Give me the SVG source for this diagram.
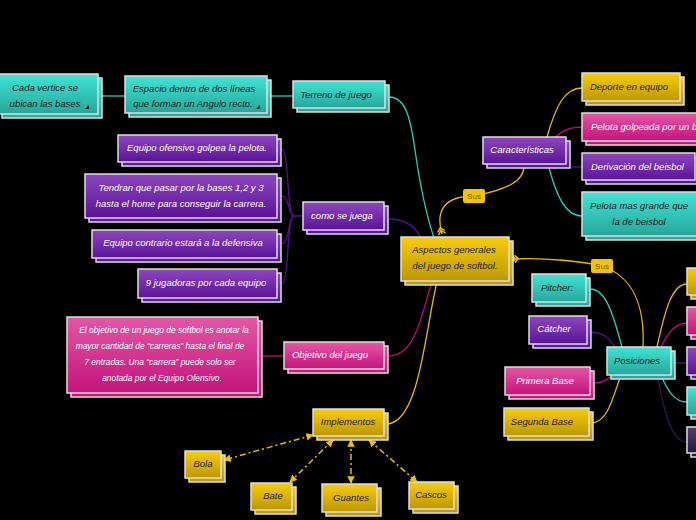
<svg xmlns="http://www.w3.org/2000/svg" width="696" height="520" viewBox="0 0 696 520">
<defs>
<linearGradient id="gT" x1="0" y1="0" x2="0" y2="1"><stop offset="0" stop-color="#40e4d4"/><stop offset="1" stop-color="#26a69b"/></linearGradient>
<linearGradient id="gP" x1="0" y1="0" x2="0" y2="1"><stop offset="0" stop-color="#8e47be"/><stop offset="1" stop-color="#5a1399"/></linearGradient>
<linearGradient id="gK" x1="0" y1="0" x2="0" y2="1"><stop offset="0" stop-color="#e457a6"/><stop offset="1" stop-color="#c4137a"/></linearGradient>
<linearGradient id="gY" x1="0" y1="0" x2="0" y2="1"><stop offset="0" stop-color="#f8cc0c"/><stop offset="1" stop-color="#bd9700"/></linearGradient>
<linearGradient id="gD" x1="0" y1="0" x2="0" y2="1"><stop offset="0" stop-color="#504070"/><stop offset="1" stop-color="#23163e"/></linearGradient>
<marker id="arr" viewBox="0 0 10 10" refX="9" refY="5" markerWidth="5" markerHeight="5" orient="auto-start-reverse"><path d="M0,0 L10,5 L0,10 z" fill="#f0c000"/></marker>
<marker id="tail" viewBox="0 0 10 10" refX="1" refY="5" markerWidth="7" markerHeight="7" orient="auto"><path d="M1,1 L5,5 L1,9 M4,1 L8,5 L4,9" fill="none" stroke="#f0c000" stroke-width="1.6"/></marker>
<style>
rect.n{stroke:#dedede;stroke-width:1.5}
.t{fill:url(#gT)} .p{fill:url(#gP)} .k{fill:url(#gK)} .y{fill:url(#gY)} .d{fill:url(#gD)}
text{font-family:"Liberation Sans",Arial,sans-serif;font-style:italic;font-size:9.5px;text-anchor:middle}
text.st{text-anchor:start}
.dk{fill:#1c1c1c} .wh{fill:#ffffff}
text.sm{font-size:8.4px}
path.c{fill:none;stroke-width:1.3}
.ct{stroke:#2ec9bc} .cp{stroke:#52108a} .ck{stroke:#b3106c} .cy{stroke:#e8b900} .cd{stroke:#2a1a52}
.dash{stroke:#e8b900;stroke-width:1.5;fill:none;stroke-dasharray:6 3 2 3}
.sus{fill:#f5c400}
text.sust{font-style:normal;font-size:8px;fill:#6e5a20}
</style>
</defs>
<rect x="0" y="0" width="696" height="520" fill="#000"/>

<g id="connectors">
<path class="c ct" d="M100,96 H125"/>
<path class="c ct" d="M270,96 H293"/>
<path class="c ct" d="M389,97 C405,97 410,115 415,150 S428,220 434,238"/>
<path class="c cp" d="M388,219 C405,219 415,225 421,238"/>
<path class="c cy" d="M442,234 C435,210 445,196 474,196 C505,190 524,182 524,166" marker-start="url(#tail)"/>
<path class="c cy" d="M512,259 C545,257 585,262 602,266 C632,276 645,305 643,347" marker-start="url(#tail)"/>
<path class="c ck" d="M388,356 C415,356 420,320 432,282"/>
<path class="c cy" d="M388,424 C420,420 425,330 437,282"/>
<path class="c ck" d="M262,356 H284"/>
<path class="c cp" d="M303,216 H294 C286,216 290,149 281,149"/>
<path class="c cp" d="M294,216 C288,216 290,196 281,196"/>
<path class="c cp" d="M294,216 C288,216 290,244 281,244"/>
<path class="c cp" d="M294,216 C286,216 290,284 281,284"/>
<path class="c cy" d="M547,137 C556,105 565,88 582,88"/>
<path class="c ck" d="M556,137 C562,130 570,127 582,127"/>
<path class="c cp" d="M570,167 H582"/>
<path class="c ct" d="M548,164 C556,195 565,216 582,216"/>
<path class="c ct" d="M590,289 C605,289 612,310 622,347"/>
<path class="c cp" d="M590,332 C605,332 610,340 615,347"/>
<path class="c ck" d="M594,383 C603,383 608,380 612,375"/>
<path class="c cy" d="M593,423 C608,420 612,400 621,375"/>
<path class="c cy" d="M657,347 C665,310 672,284 687,284"/>
<path class="c ck" d="M661,347 C668,333 675,323 687,323"/>
<path class="c cp" d="M675,363 H687"/>
<path class="c ct" d="M661,375 C668,392 675,402 687,402"/>
<path class="c cd" d="M657,375 C665,415 672,442 687,442"/>
<path class="dash" d="M313,435 L224,460" marker-start="url(#arr)" marker-end="url(#arr)"/>
<path class="dash" d="M333,440 L290,482" marker-start="url(#arr)" marker-end="url(#arr)"/>
<path class="dash" d="M351,440 L351,483" marker-start="url(#arr)" marker-end="url(#arr)"/>
<path class="dash" d="M369,440 L417,482" marker-start="url(#arr)" marker-end="url(#arr)"/>
<rect class="sus" x="463" y="189" width="22" height="14" rx="2"/>
<text class="sust" x="474" y="199">Sus</text>
<rect class="sus" x="591" y="259" width="22" height="14" rx="2"/>
<text class="sust" x="602" y="269">Sus</text>
</g>

<g id="n-cada"><rect class="n t" x="2" y="78" width="100" height="40"/><rect class="n t" x="-2" y="74" width="100" height="40"/>
<text class="dk" x="45" y="91">Cada vertice se</text><text class="dk" x="45" y="107">ubican las bases</text><polygon points="85,109 89,105 89,109" fill="#1c1c1c"/></g>
<g id="n-espacio"><rect class="n t" x="129" y="80" width="142" height="37"/><rect class="n t" x="125" y="76" width="142" height="37"/>
<text class="dk" x="194" y="92">Espacio dentro de dos líneas</text><text class="dk" x="193" y="107">que forman un Angulo recto.</text><polygon points="256,109 260,105 260,109" fill="#1c1c1c"/></g>
<g id="n-terreno"><rect class="n t" x="297" y="85" width="92" height="27"/><rect class="n t" x="293" y="81" width="92" height="27"/>
<text class="dk" x="336" y="98">Terreno de juego</text></g>

<g id="n-ofensivo"><rect class="n p" x="122" y="139" width="159" height="27"/><rect class="n p" x="118" y="135" width="159" height="27"/>
<text class="wh" x="197" y="151">Equipo ofensivo golpea la pelota.</text></g>
<g id="n-tendran"><rect class="n p" x="89" y="178" width="192" height="44"/><rect class="n p" x="85" y="174" width="192" height="44"/>
<text class="wh" x="181" y="191">Tendran que pasar por la bases 1,2 y 3</text><text class="wh" x="181" y="207">hasta el home para conseguir la carrera.</text></g>
<g id="n-contrario"><rect class="n p" x="96" y="234" width="185" height="28"/><rect class="n p" x="92" y="230" width="185" height="28"/>
<text class="wh" x="183" y="246">Equipo contrario estará  a la defensiva</text></g>
<g id="n-nueve"><rect class="n p" x="142" y="273" width="139" height="29"/><rect class="n p" x="138" y="269" width="139" height="29"/>
<text class="wh" x="206" y="286">9 jugadoras por cada equipo</text></g>
<g id="n-como"><rect class="n p" x="307" y="206" width="81" height="28"/><rect class="n p" x="303" y="202" width="81" height="28"/>
<text class="wh" x="342" y="219">como se juega</text></g>

<g id="n-center"><rect class="n y" x="405" y="241" width="108" height="44"/><rect class="n y" x="401" y="237" width="108" height="44"/>
<text class="dk" x="454" y="253">Aspectos generales</text><text class="dk" x="455" y="269">del juego de softbol.</text></g>

<g id="n-caract"><rect class="n p" x="487" y="141" width="83" height="27"/><rect class="n p" x="483" y="137" width="83" height="27"/>
<text class="wh" x="522" y="153">Características</text></g>
<g id="n-deporte"><rect class="n y" x="586" y="77" width="98" height="28"/><rect class="n y" x="582" y="73" width="98" height="28"/>
<text class="dk" x="629" y="90">Deporte en equipo</text></g>
<g id="n-golpeada"><rect class="n k" x="586" y="117" width="130" height="28"/><rect class="n k" x="582" y="113" width="130" height="28"/>
<text class="wh st" x="591" y="130">Pelota golpeada por un b</text></g>
<g id="n-derivacion"><rect class="n p" x="586" y="157" width="113" height="27"/><rect class="n p" x="582" y="153" width="113" height="27"/>
<text class="wh st" x="591" y="170">Derivación del beisbol</text></g>
<g id="n-grande"><rect class="n t" x="586" y="196" width="120" height="44"/><rect class="n t" x="582" y="192" width="120" height="44"/>
<text class="dk" x="639" y="209">Pelota mas grande que</text><text class="dk" x="639" y="225">la de beisbol</text></g>

<g id="n-pitcher"><rect class="n t" x="536" y="278" width="54" height="28"/><rect class="n t" x="532" y="274" width="54" height="28"/>
<text class="dk" x="557" y="291">Pitcher:</text></g>
<g id="n-catcher"><rect class="n p" x="533" y="320" width="58" height="28"/><rect class="n p" x="529" y="316" width="58" height="28"/>
<text class="wh" x="554" y="332">Cátcher</text></g>
<g id="n-posiciones"><rect class="n t" x="611" y="351" width="64" height="28"/><rect class="n t" x="607" y="347" width="64" height="28"/>
<text class="dk" x="637" y="364">Posiciones</text></g>
<g id="n-primera"><rect class="n k" x="509" y="371" width="85" height="28"/><rect class="n k" x="505" y="367" width="85" height="28"/>
<text class="wh" x="545" y="384">Primera Base</text></g>
<g id="n-segunda"><rect class="n y" x="508" y="412" width="85" height="28"/><rect class="n y" x="504" y="408" width="85" height="28"/>
<text class="dk" x="542" y="425">Segunda Base</text></g>

<g id="n-r1"><rect class="n y" x="691" y="272" width="40" height="27"/><rect class="n y" x="687" y="268" width="40" height="27"/></g>
<g id="n-r2"><rect class="n k" x="691" y="311" width="40" height="28"/><rect class="n k" x="687" y="307" width="40" height="28"/></g>
<g id="n-r3"><rect class="n p" x="691" y="351" width="40" height="28"/><rect class="n p" x="687" y="347" width="40" height="28"/></g>
<g id="n-r4"><rect class="n t" x="691" y="391" width="40" height="28"/><rect class="n t" x="687" y="387" width="40" height="28"/></g>
<g id="n-r5"><rect class="n d" x="691" y="431" width="40" height="26"/><rect class="n d" x="687" y="427" width="40" height="26"/></g>

<g id="n-objtext"><rect class="n k" x="71" y="321" width="191" height="76"/><rect class="n k" x="67" y="317" width="191" height="76"/>
<text class="wh sm" x="164" y="333">El objetivo de un juego de softbol es anotar la</text>
<text class="wh sm" x="160" y="349">mayor cantidad de “carreras” hasta el final de</text>
<text class="wh sm" x="160" y="365">7 entradas. Una “carrera” puede solo ser</text>
<text class="wh sm" x="162" y="381">anotada por el Equipo Ofensivo.</text></g>
<g id="n-objetivo"><rect class="n k" x="288" y="346" width="100" height="27"/><rect class="n k" x="284" y="342" width="100" height="27"/>
<text class="wh" x="330" y="358">Objetivo del juego</text></g>

<g id="n-implementos"><rect class="n y" x="317" y="413" width="71" height="27"/><rect class="n y" x="313" y="409" width="71" height="27"/>
<text class="dk" x="348" y="425">Implementos</text></g>
<g id="n-bola"><rect class="n y" x="189" y="455" width="36" height="27"/><rect class="n y" x="185" y="451" width="36" height="27"/>
<text class="dk" x="203" y="467">Bola</text></g>
<g id="n-bate"><rect class="n y" x="255" y="487" width="41" height="27"/><rect class="n y" x="251" y="483" width="41" height="27"/>
<text class="dk" x="273" y="499">Bate</text></g>
<g id="n-guantes"><rect class="n y" x="326" y="488" width="55" height="28"/><rect class="n y" x="322" y="484" width="55" height="28"/>
<text class="dk" x="351" y="501">Guantes</text></g>
<g id="n-cascos"><rect class="n y" x="413" y="486" width="45" height="27"/><rect class="n y" x="409" y="482" width="45" height="27"/>
<text class="dk" x="431" y="498">Cascos</text></g>
</svg>
